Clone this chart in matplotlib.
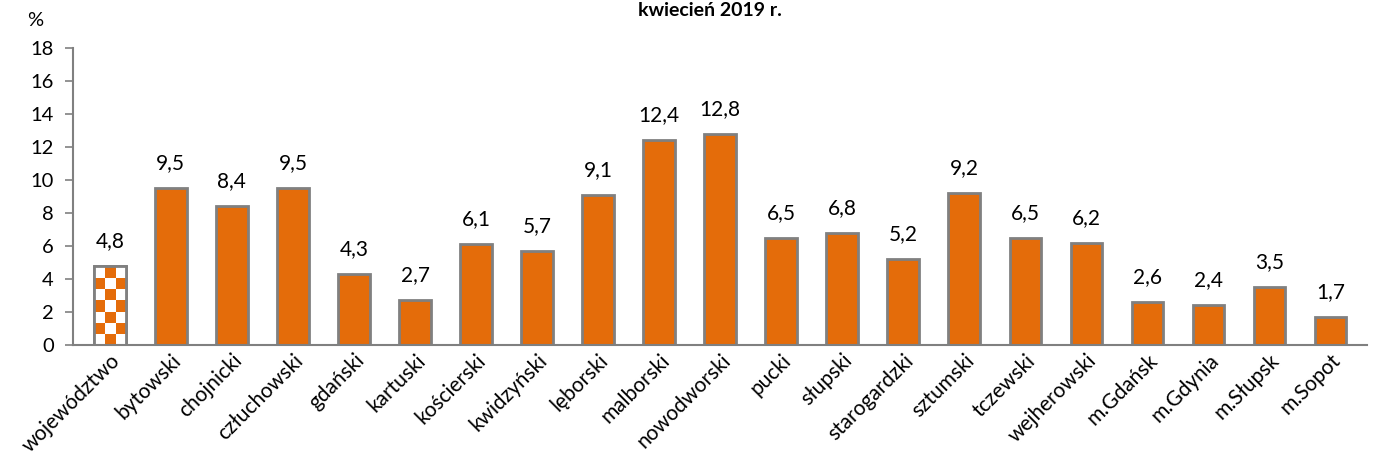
import matplotlib.pyplot as plt
import numpy as np

plt.rcParams['font.family'] = ['Lato', 'DejaVu Sans']

# dane
powiaty = ["województwo", "bytowski", "chojnicki", "człuchowski", "gdański", "kartuski",
           "kościerski", "kwidzyński", "lęborski", "malborski", "nowodworski", "pucki",
           "słupski", "starogardzki", "sztumski", "tczewski", "wejherowski", "m.Gdańsk",
           "m.Gdynia", "m.Słupsk", "m.Sopot"]
stopa = [4.8, 9.5, 8.4, 9.5, 4.3, 2.7, 6.1, 5.7, 9.1, 12.4, 12.8, 6.5, 6.8, 5.2, 9.2,
         6.5, 6.2, 2.6, 2.4, 3.5, 1.7]

orange = "#E46C0A"
gray = "#808080"

fig = plt.figure(figsize=(13.81, 4.71), dpi=100)
ax = fig.add_axes([0.053, 0.268, 0.937, 0.63])

x = np.arange(len(powiaty))
bars = ax.bar(x, stopa, width=0.52, color=orange, edgecolor=gray, linewidth=2, zorder=2)

# pierwszy slupek - szachownica
b0 = bars[0]
b0.set_facecolor("white")
cw, ch = 0.18, 0.67
nx = 4
ny = int(np.ceil(stopa[0] / ch)) + 1
board = np.indices((ny, nx)).sum(axis=0) % 2
x0 = b0.get_x()
img = ax.imshow(board, cmap=plt.matplotlib.colors.ListedColormap(["white", orange]),
                extent=[x0, x0 + nx * cw, 0, ny * ch], origin="lower",
                aspect="auto", interpolation="nearest", zorder=2)
img.set_clip_path(b0)
ax.bar([x[0]], [stopa[0]], width=0.52, facecolor="none", edgecolor=gray,
       linewidth=2, zorder=3)

for xi, v in zip(x, stopa):
    ax.text(xi, v + 0.9, f"{v:.1f}".replace(".", ","), ha="center", va="bottom",
            fontsize=15)

ax.set_xlim(-0.6, len(powiaty) - 0.4)
ax.set_ylim(0, 18)
ax.set_yticks(range(0, 19, 2))
ax.tick_params(axis="y", labelsize=14.5, color=gray, length=6, width=1.2, pad=8)
ax.tick_params(axis="x", length=0, labelsize=15, pad=4)
ax.set_xticks(x)
ax.set_xticklabels(powiaty, rotation=45, ha="right", rotation_mode="anchor")

for s in ["top", "right"]:
    ax.spines[s].set_visible(False)
ax.spines["left"].set_color(gray)
ax.spines["bottom"].set_color(gray)
ax.spines["left"].set_linewidth(1.5)
ax.spines["bottom"].set_linewidth(1.5)

fig.text(0.02, 0.945, "%", fontsize=14.5)
fig.text(0.514, 0.965, "kwiecień 2019 r.", fontsize=14, fontweight="bold",
         ha="center", va="baseline")

fig.savefig("out.png", dpi=100)
